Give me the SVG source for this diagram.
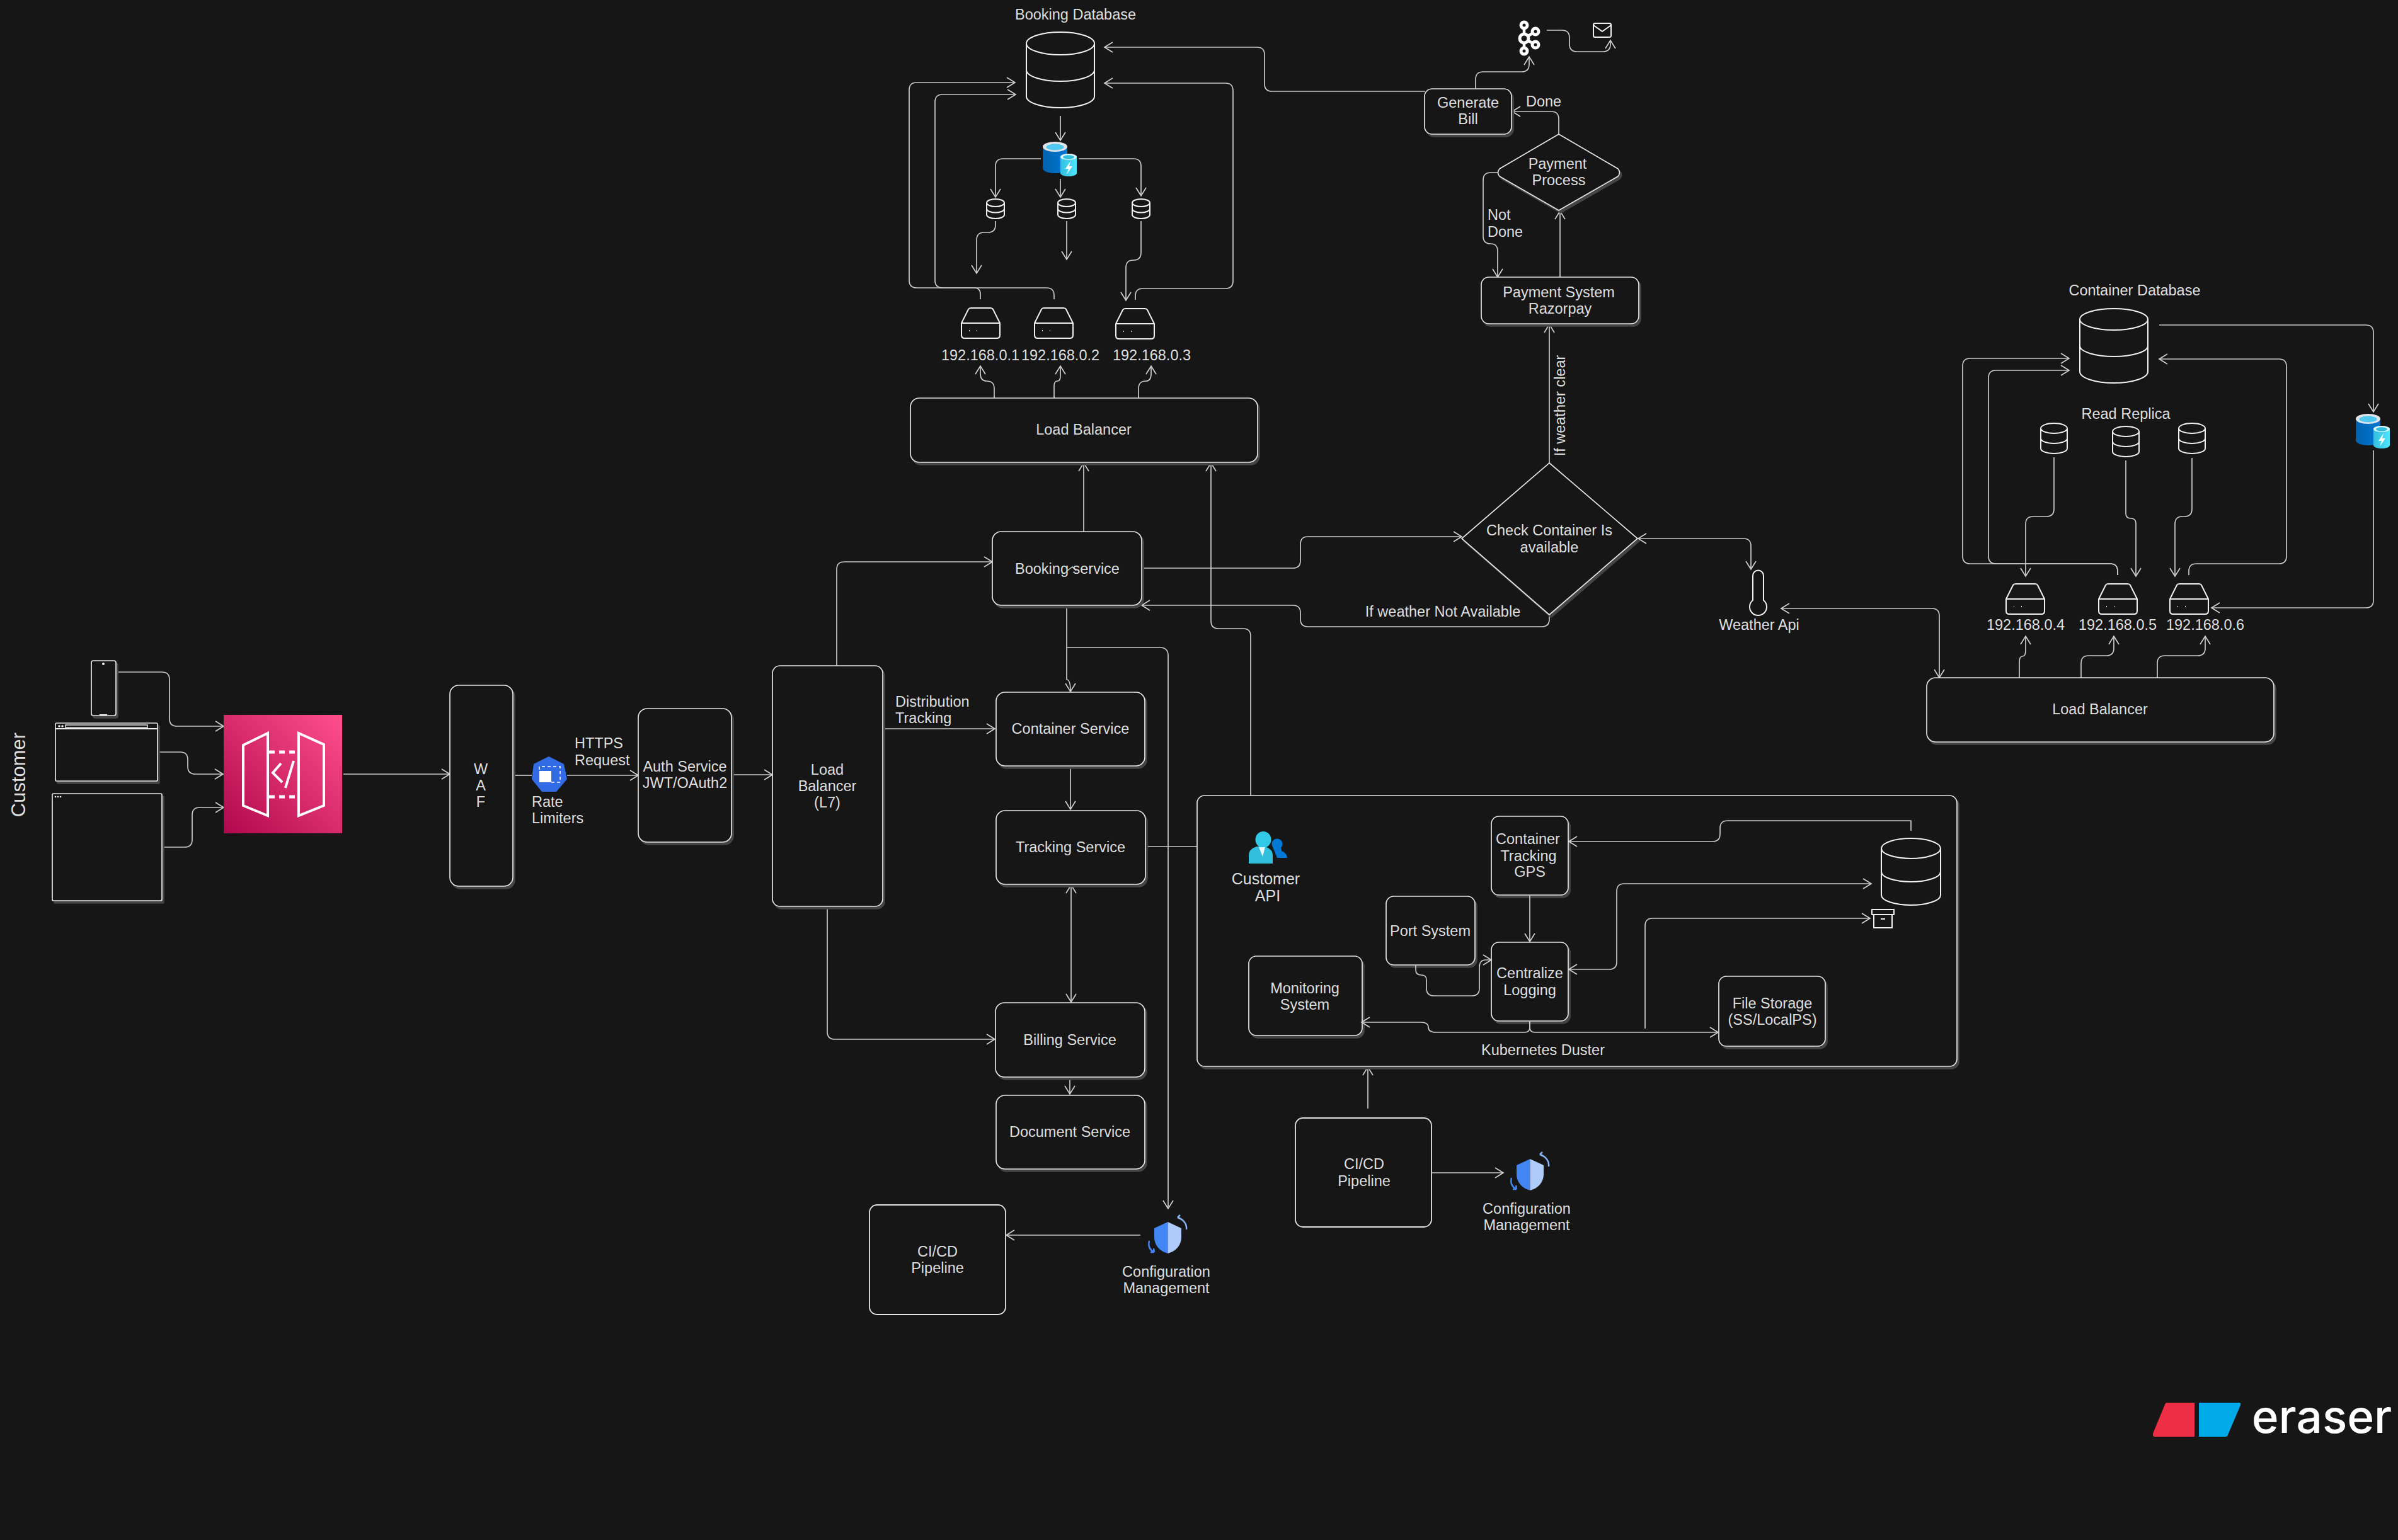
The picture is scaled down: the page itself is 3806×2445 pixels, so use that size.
<svg xmlns="http://www.w3.org/2000/svg" width="3806" height="2445" viewBox="0 0 3806 2445">
<style>
.n{fill:#161616;stroke:#e4e4e4;stroke-width:1.700;filter:drop-shadow(3px 4px 0 #444)}
.f{fill:#161616;stroke:#e4e4e4;stroke-width:1.800}
.i{fill:none;stroke:#f0f0f0;stroke-width:2;stroke-linejoin:round}
.c{fill:none;stroke:#c8c8c8;stroke-width:1.700}
.a{marker-end:url(#ah)}
.b{marker-end:url(#ah);marker-start:url(#ah)}
text{font-family:"Liberation Sans",Arial,sans-serif;font-size:23.500px;fill:#dedede;text-anchor:middle;dominant-baseline:central}
.l{text-anchor:start}
</style>
<defs>
<marker id="ah" markerUnits="userSpaceOnUse" markerWidth="30" markerHeight="30" refX="15" refY="15" orient="auto-start-reverse" viewBox="0 0 30 30"><path d="M2 7L15 15L2 23" fill="none" stroke="#d0d0d0" stroke-width="1.700"/></marker>
<linearGradient id="pink" x1="0" y1="1" x2="1" y2="0"><stop offset="0" stop-color="#b0084d"/><stop offset="1" stop-color="#ff4f8b"/></linearGradient>
<linearGradient id="rb" x1="0" y1="0" x2="1" y2="0"><stop offset="0" stop-color="#0062ad"/><stop offset="1" stop-color="#0078d4"/></linearGradient>
<linearGradient id="rs" x1="0" y1="0" x2="1" y2="0"><stop offset="0" stop-color="#32bedd"/><stop offset="1" stop-color="#50e6ff"/></linearGradient>
<path id="server" class="i" d="M0 24L11 2Q12 0 15 0H46Q49 0 50 2L61 24V43Q61 48 56 48H5Q0 48 0 43ZM0 24H61M12 36h1M24 36h1"/>
<path id="sdb" class="i" d="M-14 0A14 6 0 1 1 14 0A14 6 0 1 1 -14 0V19A14 6 0 0 0 14 19V0M-14 9.500A14 6 0 0 0 14 9.500"/>
<path id="rdb" class="i" d="M-21 0A21 8 0 1 1 21 0A21 8 0 1 1 -21 0V32A21 8 0 0 0 21 32V0M-21 16A21 8 0 0 0 21 16"/>
<g id="redis">
<path d="M0 8V42C0 47 9 50 20 50S39 47 39 42V8Z" fill="url(#rb)"/>
<ellipse cx="19.500" cy="8" rx="19.500" ry="8" fill="#e0e4e8"/>
<ellipse cx="19.500" cy="8.500" rx="14" ry="5" fill="#50c8ef"/>
<path d="M28 24V50C28 53 35 55 41 55S54 53 54 50V24Z" fill="url(#rs)"/>
<ellipse cx="41" cy="24" rx="13" ry="5" fill="#dff6fb"/>
<ellipse cx="41" cy="24.500" rx="9" ry="3.200" fill="#32bedd"/>
<path d="M44 31L36 43H41L38 52L47 39H42Z" fill="#fff"/>
</g>
<g id="shield">
<path d="M21.500 0L0 10V24C0 38 10 47 21.500 50Z" fill="#4285f4"/>
<path d="M21.500 0L43 10V24C43 38 33 47 21.500 50Z" fill="#aecbfa"/>
<path d="M37 -7C47 -4 52 4 51 12M37 -7L41 -11M37 -7L43 -4" fill="none" stroke="#8ab4f8" stroke-width="2.500"/>
<path d="M-8 30C-10 38 -8 44 0 48M0 48L-6 48M0 48L-1 42" fill="none" stroke="#4285f4" stroke-width="2.500"/>
</g>
</defs>
<rect width="3806" height="2445" fill="#161616"/>

<g id="connectors">
<path class="c a" d="M184 1067H257Q269 1067 269 1079V1141Q269 1153 281 1153H355"/>
<path class="c a" d="M250 1194H286Q298 1194 298 1206V1217Q298 1229 310 1229H354"/>
<path class="c a" d="M258 1345H293Q305 1345 305 1333V1294Q305 1282 317 1282H355"/>
<path class="c a" d="M545 1229H714"/>
<path class="c" d="M814 1231H844"/>
<path class="c a" d="M900 1231H1013"/>
<path class="c a" d="M1163 1230H1226"/>
<path class="c a" d="M1328 1057V904Q1328 892 1340 892H1575"/>
<path class="c a" d="M1401 1157H1579"/>
<path class="c a" d="M1313 1441V1638Q1313 1650 1325 1650H1579"/>
<path class="c a" d="M1720 844V735"/>
<path class="c a" d="M1693 963V1079Q1699 1079 1699 1098"/>
<path class="c a" d="M1692 1028H1841Q1854 1028 1854 1041V1919"/>
<path class="c a" d="M1699 1216V1285"/>
<path class="c b" d="M1700 1591V1405"/>
<path class="c" d="M1818 1344H1900"/>
<path class="c a" d="M1698 1711V1737"/>
<path class="c a" d="M1810 1961H1597"/>
<path class="c a" d="M2171 1760V1694"/>
<path class="c a" d="M2273 1862H2386"/>
<path class="c a" d="M1985 1263V1010Q1985 998 1973 998H1934Q1922 998 1922 986V735"/>
<path class="c a" d="M1814 902H2052Q2064 902 2064 890V864Q2064 852 2076 852H2320"/>
<path class="c a" d="M2459 976V983Q2459 995 2447 995H2076Q2064 995 2064 983V973Q2064 961 2052 961H1812"/>
<path class="c b" d="M2779 904V867Q2779 855 2767 855H2600"/>
<path class="c a" d="M2459 735V515"/>
<path class="c a" d="M2476 440V335"/>
<path class="c a" d="M2474 213V189Q2474 177 2462 177H2400"/>
<path class="c a" d="M2377 274H2366Q2354 274 2354 286V375Q2354 387 2366 387Q2377 387 2377 399V440"/>
<path class="c a" d="M2342 140V126Q2342 114 2354 114H2415Q2427 114 2427 102V90"/>
<path class="c a" d="M2455 48H2479Q2491 48 2491 60V70Q2491 82 2503 82H2544Q2556 82 2556 70V64"/>
<path class="c a" d="M2262 145H2019Q2007 145 2007 133V87Q2007 75 1995 75H1753"/>
<path class="c a" d="M1556 475V467Q1556 457 1546 457H1455Q1443 457 1443 445V143Q1443 131 1455 131H1611"/>
<path class="c a" d="M1673 475V469Q1673 457 1661 457H1496Q1484 457 1484 445V162Q1484 150 1496 150H1612"/>
<path class="c a" d="M1802 476V470Q1802 458 1814 458H1945Q1957 458 1957 446V144Q1957 132 1945 132H1753"/>
<path class="c a" d="M1683 184V223"/>
<path class="c a" d="M1652 252H1592Q1580 252 1580 264V313"/>
<path class="c a" d="M1683 284V313"/>
<path class="c a" d="M1712 252H1799Q1811 252 1811 264V311"/>
<path class="c a" d="M1580 351V357Q1580 369 1568 369H1562Q1550 369 1550 381V434"/>
<path class="c a" d="M1693 351V412"/>
<path class="c a" d="M1811 351V401Q1811 413 1799 413Q1787 413 1787 425V477"/>
<path class="c a" d="M1578 632V617Q1578 605 1566 605Q1556 605 1556 593V581"/>
<path class="c a" d="M1673 632V613Q1673 605 1678 605Q1683 605 1683 597V581"/>
<path class="c a" d="M1807 632V617Q1807 605 1819 605Q1827 605 1827 593V581"/>
<path class="c a" d="M3427 516H3755Q3767 516 3767 528V654"/>
<path class="c a" d="M3767 715V953Q3767 965 3755 965H3510"/>
<path class="c a" d="M3361 913V907Q3361 895 3349 895H3127Q3115 895 3115 883V581Q3115 569 3127 569H3284"/>
<path class="c a" d="M3361 913V907Q3361 895 3349 895H3168Q3156 895 3156 883V600Q3156 588 3168 588H3284"/>
<path class="c a" d="M3474 913V907Q3474 895 3486 895H3617Q3629 895 3629 883V582Q3629 570 3617 570H3427"/>
<path class="c a" d="M3260 726V808Q3260 820 3248 820H3227Q3215 820 3215 832V915"/>
<path class="c a" d="M3374 731V815Q3374 823 3382 823Q3390 823 3390 831V915"/>
<path class="c a" d="M3479 727V808Q3479 820 3467 820H3464Q3452 820 3452 832V915"/>
<path class="c a" d="M3205 1076V1052Q3205 1042 3210 1042Q3215 1042 3215 1032V1010"/>
<path class="c a" d="M3303 1076V1053Q3303 1041 3315 1041H3343Q3355 1041 3355 1029V1010"/>
<path class="c a" d="M3424 1076V1053Q3424 1041 3436 1041H3488Q3500 1041 3500 1029V1010"/>
<path class="c b" d="M2827 966H3066Q3078 966 3078 978V1076"/>
</g>

<g id="customer-label"><text transform="translate(29 1230) rotate(-90)" style="font-size:31px">Customer</text></g>
<g id="phone"><rect class="n" x="145" y="1049" width="39" height="87" rx="3"/><circle cx="164" cy="1054" r="2" fill="#eee"/><path class="i" d="M158 1135H170"/></g>
<g id="browser-1"><rect class="n" x="88" y="1148" width="162" height="92" rx="2"/><path class="i" d="M88 1157H250"/><rect x="104" y="1151" width="130" height="4" fill="none" stroke="#eee" stroke-width="1.500"/><circle cx="94" cy="1153" r="1.800" fill="#eee"/><circle cx="99" cy="1153" r="1.800" fill="#eee"/></g>
<g id="browser-2"><rect class="n" x="83" y="1260" width="174" height="170" rx="2"/><circle cx="88" cy="1265" r="1.300" fill="#eee"/><circle cx="92" cy="1265" r="1.300" fill="#eee"/><circle cx="96" cy="1265" r="1.300" fill="#eee"/></g>
<g id="api-gateway"><rect x="355" y="1135" width="188" height="188" fill="url(#pink)"/>
<path d="M425 1164L386 1183V1279L425 1295ZM474 1164L514 1182V1279L474 1295ZM446 1212L433 1227L448 1242M466 1208L453 1251" fill="none" stroke="#fff" stroke-width="4"/>
<path d="M427 1194H474M427 1265H474" fill="none" stroke="#fff" stroke-width="5" stroke-dasharray="9 7"/></g>
<g id="waf"><rect class="n" x="714" y="1088" width="100" height="319" rx="14"/><text x="763" y="1221">W</text><text x="763" y="1247">A</text><text x="763" y="1273">F</text></g>
<g id="rate-limiters"><path d="M871 1201L895 1213L900 1237L883 1257H860L844 1237L847 1213Z" fill="#326ce5"/><rect x="856" y="1224" width="19" height="18" fill="#fff"/><path d="M856 1222V1217H889V1242H875" fill="none" stroke="#fff" stroke-width="1.500" stroke-dasharray="5 4"/><text class="l" x="844" y="1273">Rate</text><text class="l" x="844" y="1299">Limiters</text></g>
<g id="https-label"><text class="l" x="912" y="1180">HTTPS</text><text class="l" x="912" y="1207">Request</text></g>
<g id="auth"><rect class="n" x="1013" y="1125" width="148" height="212" rx="14"/><text x="1087" y="1217">Auth Service</text><text x="1087" y="1243">JWT/OAuth2</text></g>
<g id="lb-l7"><rect class="n" x="1226" y="1057" width="175" height="382" rx="12"/><text x="1313" y="1222">Load</text><text x="1313" y="1248">Balancer</text><text x="1313" y="1274">(L7)</text></g>
<g id="distribution-label"><text class="l" x="1421" y="1114">Distribution</text><text class="l" x="1421" y="1140">Tracking</text></g>
<g id="booking-service"><rect class="n" x="1575" y="844" width="237" height="117" rx="14"/><text x="1694" y="903">Booking service</text><path d="M1694 906L1702 900L1708 906" fill="none" stroke="#ddd" stroke-width="1.500"/></g>
<g id="container-service"><rect class="n" x="1581" y="1099" width="236" height="117" rx="14"/><text x="1699" y="1157">Container Service</text></g>
<g id="tracking-service"><rect class="n" x="1581" y="1287" width="237" height="117" rx="14"/><text x="1699" y="1345">Tracking Service</text></g>
<g id="billing-service"><rect class="n" x="1580" y="1592" width="237" height="118" rx="14"/><text x="1698" y="1651">Billing Service</text></g>
<g id="document-service"><rect class="n" x="1581" y="1739" width="236" height="117" rx="14"/><text x="1698" y="1797">Document Service</text></g>
<g id="cicd-1"><rect class="f" x="1380" y="1913" width="216" height="174" rx="12"/><text x="1488" y="1987">CI/CD</text><text x="1488" y="2013">Pipeline</text></g>
<g id="config-1"><use href="#shield" x="1832" y="1940"/><text x="1851" y="2019">Configuration</text><text x="1851" y="2045">Management</text></g>
<g id="cicd-2"><rect class="f" x="2056" y="1775" width="216" height="173" rx="12"/><text x="2165" y="1848">CI/CD</text><text x="2165" y="1875">Pipeline</text></g>
<g id="config-2"><use href="#shield" x="2407" y="1840"/><text x="2423" y="1919">Configuration</text><text x="2423" y="1945">Management</text></g>

<g id="booking-db"><text x="1707" y="23">Booking Database</text><path class="i" d="M1629 69A54 18 0 1 1 1737 69A54 18 0 1 1 1629 69V153A54 18 0 0 0 1737 153V69M1629 111A54 18 0 0 0 1737 111"/></g>
<g id="booking-cache"><use href="#redis" x="1655" y="225"/></g>
<g id="booking-replicas"><use href="#sdb" x="1580" y="322"/><use href="#sdb" x="1693" y="322"/><use href="#sdb" x="1811" y="322"/></g>
<g id="server-1"><use href="#server" x="1526" y="489"/><text x="1556" y="564">192.168.0.1</text></g>
<g id="server-2"><use href="#server" x="1642" y="489"/><text x="1683" y="564">192.168.0.2</text></g>
<g id="server-3"><use href="#server" x="1771" y="490"/><text x="1828" y="564">192.168.0.3</text></g>
<g id="lb-booking"><rect class="n" x="1445" y="632" width="551" height="102" rx="14"/><text x="1720" y="682">Load Balancer</text></g>

<g id="kafka"><path d="M2419 44L2419 78M2419 61L2437 50M2419 61L2437 71" fill="none" stroke="#fff" stroke-width="4.500"/><g fill="#161616" stroke="#fff" stroke-width="5"><circle cx="2419" cy="40" r="5"/><circle cx="2437" cy="50" r="5"/><circle cx="2419" cy="61" r="7"/><circle cx="2437" cy="71" r="5"/><circle cx="2419" cy="81" r="5"/></g></g>
<g id="mail"><rect class="i" x="2529" y="37" width="28" height="22" rx="2.500"/><path class="i" d="M2529 40L2543 50L2557 40"/></g>
<g id="generate-bill"><rect class="n" x="2261" y="141" width="138" height="72" rx="12"/><text x="2330" y="163">Generate</text><text x="2330" y="189">Bill</text></g>
<text class="l" x="2422" y="161">Done</text>
<g id="payment-process"><path class="n" d="M2474 213L2568 268Q2573 274 2568 280L2474 334L2380 280Q2375 274 2380 268Z"/><text x="2472" y="260">Payment</text><text x="2474" y="286">Process</text></g>
<text class="l" x="2361" y="341">Not</text><text class="l" x="2361" y="368">Done</text>
<g id="payment-system"><rect class="n" x="2351" y="440" width="250" height="74" rx="12"/><text x="2474" y="464">Payment System</text><text x="2476" y="490">Razorpay</text></g>
<text transform="translate(2476 644) rotate(-90)">If weather clear</text>
<g id="check-container"><path class="n" d="M2459 735L2599 855L2459 976L2320 855Z"/><text x="2459" y="842">Check Container Is</text><text x="2459" y="869">available</text></g>
<text x="2290" y="971">If weather Not Available</text>
<g id="weather-api"><path class="i" d="M2782 953V914A8.500 8.500 0 0 1 2799 914V953A13.500 13.500 0 1 1 2782 953Z"/><text x="2792" y="992">Weather Api</text></g>

<g id="container-db"><text x="3388" y="461">Container Database</text><path class="i" d="M3301 507A54 17 0 1 1 3409 507A54 17 0 1 1 3301 507V590A54 18 0 0 0 3409 590V507M3301 549A54 17 0 0 0 3409 549"/></g>
<g id="read-replica"><text x="3374" y="657">Read Replica</text><use href="#rdb" x="3260" y="680"/><use href="#rdb" x="3374" y="685"/><use href="#rdb" x="3479" y="680"/></g>
<g id="container-cache"><use href="#redis" x="3739" y="657"/></g>
<g id="server-4"><use href="#server" x="3184" y="927"/><text x="3215" y="992">192.168.0.4</text></g>
<g id="server-5"><use href="#server" x="3331" y="927"/><text x="3361" y="992">192.168.0.5</text></g>
<g id="server-6"><use href="#server" x="3444" y="927"/><text x="3500" y="992">192.168.0.6</text></g>
<g id="lb-container"><rect class="n" x="3058" y="1076" width="551" height="102" rx="14"/><text x="3333" y="1126">Load Balancer</text></g>

<g id="kubernetes-cluster"><rect class="n" x="1900" y="1263" width="1206" height="430" rx="12"/><text x="2449" y="1667">Kubernetes Duster</text></g>
<g id="customer-api"><path d="M2024 1340C2032 1340 2034 1347 2034 1351C2040 1353 2043 1358 2043 1362V1362H2027L2020 1345Z" fill="#0078d4"/><circle cx="2027" cy="1340" r="8.500" fill="#0078d4"/><path d="M1982 1371V1358C1982 1350 1987 1347 1994 1344H2008C2015 1347 2020 1350 2020 1358V1371Z" fill="#32bedd"/><ellipse cx="2005" cy="1333" rx="12.500" ry="13" fill="#32c8e8"/><path d="M1998 1345H2008L2004 1360Z" fill="#e8f8fc"/><text x="2009" y="1395" style="font-size:25px">Customer</text><text x="2012" y="1422" style="font-size:25px">API</text></g>
<g id="gps"><rect class="n" x="2367" y="1296" width="122" height="125" rx="12"/><text x="2425" y="1332">Container</text><text x="2426" y="1359">Tracking</text><text x="2428" y="1384">GPS</text></g>
<g id="port-system"><rect class="n" x="2200" y="1423" width="141" height="109" rx="12"/><text x="2270" y="1478">Port System</text></g>
<g id="logging"><rect class="n" x="2367" y="1496" width="122" height="125" rx="12"/><text x="2428" y="1545">Centralize</text><text x="2428" y="1572">Logging</text></g>
<g id="monitoring"><rect class="n" x="1982" y="1518" width="180" height="126" rx="12"/><text x="2071" y="1569">Monitoring</text><text x="2071" y="1595">System</text></g>
<g id="file-storage"><rect class="n" x="2728" y="1550" width="169" height="111" rx="12"/><text x="2813" y="1593">File Storage</text><text x="2813" y="1619">(SS/LocalPS)</text></g>
<g id="k8s-db"><path class="i" d="M2986 1347A47 16 0 1 1 3080 1347A47 16 0 1 1 2986 1347V1421A47 16 0 0 0 3080 1421V1347M2986 1384A47 16 0 0 0 3080 1384"/></g>
<g id="k8s-box"><path class="i" d="M2971 1444H3006V1452H2971ZM2974 1452V1473H3003V1452M2985 1459H2992"/></g>
<g id="k8s-connectors">
<path class="c a" d="M3033 1319V1303H2742Q2730 1303 2730 1315V1324Q2730 1336 2718 1336H2490"/>
<path class="c a" d="M2428 1422V1495"/>
<path class="c a" d="M2247 1533V1540Q2247 1548 2256 1548Q2264 1548 2264 1556V1569Q2264 1581 2276 1581H2336Q2348 1581 2348 1569V1536Q2348 1524 2358 1524H2367"/>
<path class="c b" d="M2490 1539H2554Q2566 1539 2566 1527V1415Q2566 1403 2578 1403H2970"/>
<path class="c a" d="M2611 1633V1470Q2611 1458 2623 1458H2968"/>
<path class="c a" d="M2428 1622V1631Q2428 1639 2420 1639H2279Q2267 1639 2267 1631Q2267 1623 2255 1623H2161"/>
<path class="c a" d="M2428 1622V1631Q2428 1639 2436 1639H2727"/>
</g>

<g id="eraser-logo"><path d="M3439 2227H3483V2281H3420Q3416 2281 3417 2276L3436 2230Q3437 2227 3439 2227Z" fill="#ee2e44"/><path d="M3490 2227H3554Q3557 2227 3556 2231L3536 2278Q3535 2281 3532 2281H3490Z" fill="#00a9e8"/><text x="3685" y="2275" style="font-family:Inter,'Liberation Sans',sans-serif;font-size:73px;font-weight:500;fill:#fff;dominant-baseline:auto">eraser</text></g>
</svg>
